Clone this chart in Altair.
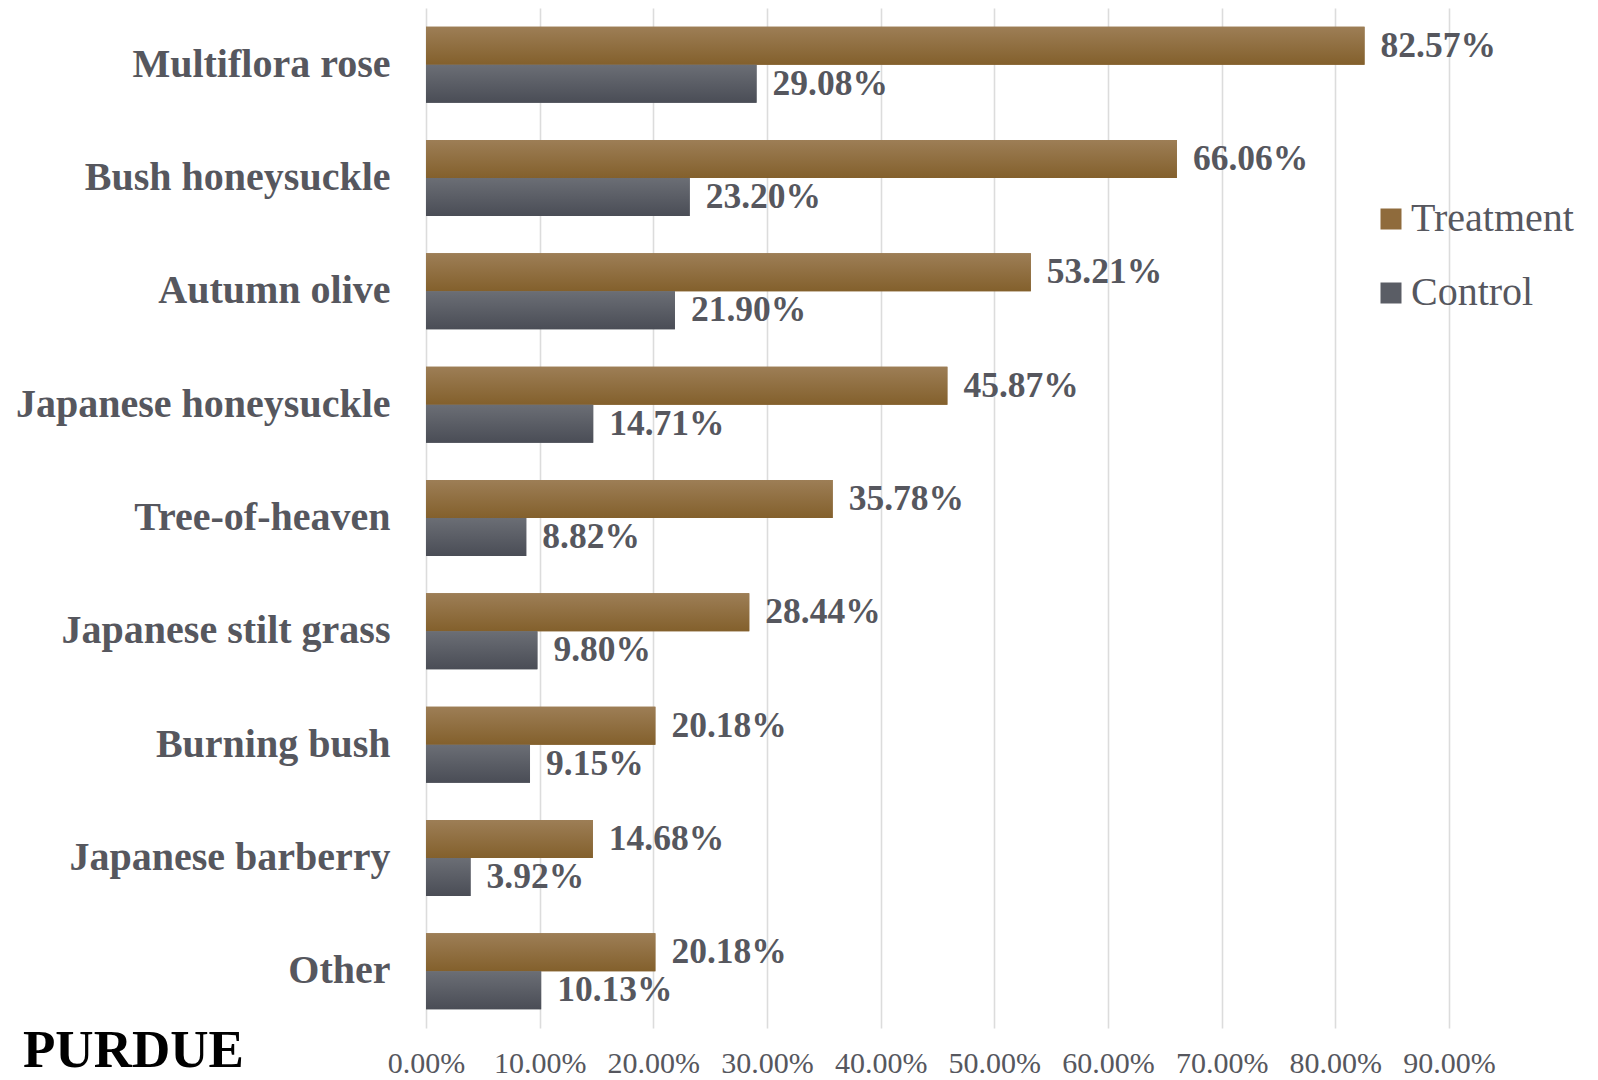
import altair as alt
import pandas as pd

categories = ["Multiflora rose", "Bush honeysuckle", "Autumn olive", "Japanese honeysuckle",
              "Tree-of-heaven", "Japanese stilt grass", "Burning bush", "Japanese barberry", "Other"]
treatment = [82.57, 66.06, 53.21, 45.87, 35.78, 28.44, 20.18, 14.68, 20.18]
control = [29.08, 23.20, 21.90, 14.71, 8.82, 9.80, 9.15, 3.92, 10.13]
series = ["Treatment", "Control"]
x_ticks = [0, 10, 20, 30, 40, 50, 60, 70, 80, 90]

rows = []
for c, t, k in zip(categories, treatment, control):
    rows.append({"category": c, "series": "Treatment", "value": t})
    rows.append({"category": c, "series": "Control", "value": k})
df = pd.DataFrame(rows)

FONT = "Liberation Serif"
GRAY = "#56575e"

y_enc = alt.Y("category:N", sort=categories, title=None,
              scale=alt.Scale(paddingInner=0.33, paddingOuter=0.165),
              axis=alt.Axis(labelFont=FONT, labelFontSize=40, labelFontWeight="bold",
                            labelColor=GRAY, labelPadding=36, ticks=False, domain=False,
                            labelLimit=500))
yoff = alt.YOffset("series:N", sort=series, scale=alt.Scale(domain=series))
x_enc = alt.X("value:Q", title=None,
              scale=alt.Scale(domain=[0, 90], nice=False),
              axis=alt.Axis(values=x_ticks, labelExpr="format(datum.value, '.2f') + '%'",
                            labelFont=FONT, labelFontSize=30, labelColor=GRAY,
                            labelPadding=20, ticks=False, domain=False, labelOverlap=False,
                            labelFlush=False,
                            grid=True, gridColor="#dcdcdc", gridWidth=1.6))

base = alt.Chart(df)

flat = base.mark_bar().encode(
    y=y_enc, x=x_enc, yOffset=yoff,
    color=alt.Color("series:N", sort=series,
                    scale=alt.Scale(domain=series, range=["#8f6b3c", "#5a5d65"]),
                    legend=alt.Legend(title=None, orient="none", legendX=945, legendY=191,
                                      symbolType="square", symbolSize=441, symbolStrokeWidth=0,
                                      labelFont=FONT, labelFontSize=40, labelColor=GRAY,
                                      labelOffset=0, rowPadding=34, labelLimit=400))
)

def grad(top, bottom):
    return alt.LinearGradient(gradient="linear",
                              stops=[alt.GradientStop(color=top, offset=0),
                                     alt.GradientStop(color=bottom, offset=1)],
                              x1=0, x2=0, y1=0, y2=1)

tbar = base.transform_filter(alt.datum.series == "Treatment").mark_bar(
    color=grad("#9d7e56", "#83602c")).encode(y=y_enc, x=x_enc, yOffset=yoff)
cbar = base.transform_filter(alt.datum.series == "Control").mark_bar(
    color=grad("#6b6e75", "#4a4d56")).encode(y=y_enc, x=x_enc, yOffset=yoff)

labels = base.transform_calculate(
    label="format(datum.value, '.2f') + '%'"
).mark_text(align="left", baseline="middle", dx=16, font=FONT, fontSize=35.5,
            fontWeight="bold", color=GRAY).encode(
    y=y_enc, x=x_enc, yOffset=yoff, text="label:N")

logo = alt.Chart(pd.DataFrame({"t": ["PURDUE"]})).mark_text(
    align="left", baseline="alphabetic", font=FONT, fontSize=53, fontWeight="bold",
    color="#000000").encode(x=alt.value(-403), y=alt.value(1059), text="t:N")

chart = alt.layer(flat, tbar, cbar, labels, logo).properties(
    width=1023, height=1020,
    autosize=alt.AutoSizeParams(type="none"),
    padding={"left": 418, "top": 0, "right": 141, "bottom": 52},
    background="#ffffff",
).configure_view(stroke=None)

chart.save("out.html", embed_options={"renderer": "svg", "actions": False})
